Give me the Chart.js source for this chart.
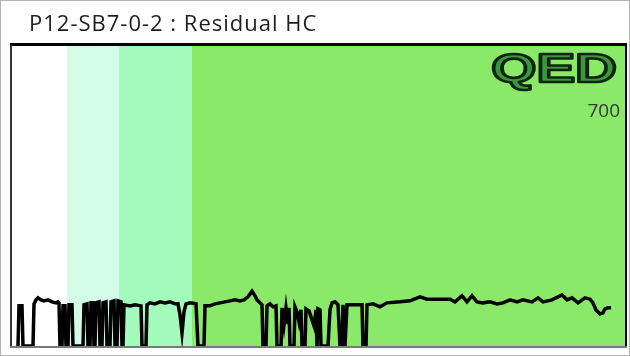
<!DOCTYPE html>
<html>
<head>
<meta charset="utf-8">
<title>P12-SB7-0-2 : Residual HC</title>
<script src="https://cdn.jsdelivr.net/npm/chart.js@4/dist/chart.umd.min.js"></script>
<style>
  html, body { margin: 0; padding: 0; background: #ffffff; }
  #wrap { width: 630px; height: 356px; position: relative; }
</style>
</head>
<body>
<div id="wrap"><canvas id="hc" width="630" height="356"></canvas></div>
<script>
// Run title and logo
const chartTitle = 'P12-SB7-0-2 : Residual HC';
const logoText = 'QED';

// Sample position along the run and residual HC reading at that position
const sampleX = [
  7, 8, 11, 12, 22, 23, 25, 27, 30, 33, 37, 41, 45, 47, 48, 49,
  51, 52, 54, 55, 57, 58, 61, 62,
  72, 73, 76, 77, 79, 80, 82, 83, 84, 85, 88, 89, 91, 92, 95, 96,
  99, 100, 103, 104, 106, 107, 110, 111,
  112, 113, 119, 124, 130, 131, 135, 136, 139, 144, 149, 154, 159, 164, 167,
  169, 171, 173, 175, 179, 185, 187, 193, 194, 199, 204, 209, 214, 219, 224,
  229, 233, 237, 241, 244, 246, 249, 251, 252,
  255, 256, 259, 262, 265, 266, 270, 271, 273, 275, 277, 278, 279,
  283, 284, 286, 288, 290, 291, 294, 295, 298, 301, 303, 305, 306,
  307, 309, 310, 317, 319, 321, 324, 327, 329, 331, 332, 334, 336, 344, 351, 352,
  355, 356, 362, 369, 376, 389, 399, 409, 416, 429, 439, 444, 451, 456, 461, 466,
  472, 479, 486, 492, 499, 506, 512, 521, 527, 532, 541, 551, 556, 561, 567,
  574, 579, 582, 585, 589, 592, 594, 597, 600
];
const residualHC = [
  0, 120, 120, 0, 0, 126, 138, 144, 138, 135, 138, 132, 129, 132, 129, 0,
  0, 120, 120, 0, 0, 123, 123, 0,
  0, 123, 126, 0, 0, 129, 129, 0, 0, 129, 132, 0, 0, 129, 132, 0,
  0, 132, 135, 0, 0, 135, 132, 0,
  0, 123, 120, 123, 120, 0, 0, 123, 129, 126, 132, 129, 132, 126, 126,
  93, 39, 102, 126, 129, 126, 0, 0, 120, 120, 126, 129, 132, 135, 138,
  135, 138, 147, 164, 150, 138, 129, 123, 0,
  0, 120, 126, 117, 120, 0, 0, 114, 63, 114, 66, 114, 0,
  0, 117, 102, 72, 108, 0, 0, 111, 105, 78, 60, 108, 0,
  111, 108, 0, 0, 108, 129, 132, 123, 0, 0, 123, 0, 123, 123, 123, 0,
  0, 123, 126, 117, 129, 132, 135, 147, 140, 140, 140, 132, 150, 132, 150, 132,
  129, 132, 126, 129, 138, 132, 138, 132, 144, 132, 138, 153, 138, 144, 129,
  144, 140, 129, 108, 96, 99, 111, 114, 114
];

// Axis ticks shown on the value scale
const hcTicks = [700];

// Shaded phases of the run: start position of each band and its fill
const bandStarts = [0, 56, 108, 181];
const bandEnds = [56, 108, 181, 615];
const bandColors = ['#ffffff', '#d2fce8', '#a3fbbc', '#8be96a'];

const points = sampleX.map((x, i) => ({ x: x, y: residualHC[i] }));

// Phase bands behind the trace, positioned through the x scale
const bandPlugin = {
  id: 'bands',
  beforeDatasetsDraw(chart) {
    const { ctx, chartArea: a, scales: { x } } = chart;
    ctx.save();
    for (let i = 0; i < bandStarts.length; i++) {
      const x0 = x.getPixelForValue(bandStarts[i]);
      const x1 = x.getPixelForValue(bandEnds[i]);
      ctx.fillStyle = bandColors[i];
      ctx.fillRect(x0, a.top, x1 - x0, a.bottom - a.top);
    }
    ctx.restore();
  }
};

// Page background, header text, logo, value labels and frame
const framePlugin = {
  id: 'frame',
  beforeDraw(chart) {
    const { ctx, width, height } = chart;
    ctx.save();
    ctx.fillStyle = '#ffffff';
    ctx.fillRect(0, 0, width, height);
    ctx.restore();
  },
  afterDraw(chart) {
    const { ctx, chartArea: a, width, height, scales: { y } } = chart;
    ctx.save();
    // header
    ctx.fillStyle = '#1e1e1e';
    ctx.font = '22px "Open Sans", Lato, sans-serif';
    ctx.letterSpacing = '1px';
    ctx.textBaseline = 'alphabetic';
    ctx.textAlign = 'left';
    ctx.fillText(chartTitle, 29, 31);
    ctx.letterSpacing = '0px';

    // value labels inside the right edge
    ctx.fillStyle = '#383838';
    ctx.font = '19px "Open Sans", sans-serif';
    ctx.textAlign = 'right';
    ctx.textBaseline = 'middle';
    hcTicks.forEach(v => ctx.fillText(String(v), a.right - 6, y.getPixelForValue(v)));

    // logo: dark outlined letters with a lighter green core
    ctx.save();
    ctx.translate(a.right - 9, a.top + 37);
    ctx.scale(1.45, 1);
    ctx.font = 'bold 40px "Liberation Sans", Arial, sans-serif';
    ctx.textAlign = 'right';
    ctx.textBaseline = 'alphabetic';
    ctx.lineJoin = 'round';
    ctx.lineWidth = 2.6;
    ctx.fillStyle = '#3f9440';
    ctx.strokeStyle = '#0c260d';
    ctx.fillText(logoText, 0, 0);
    ctx.strokeText(logoText, 0, 0);
    ctx.restore();

    // plot frame
    ctx.fillStyle = '#000000';
    ctx.fillRect(a.left - 1, a.top - 2, a.right - a.left + 2, 3);
    ctx.fillStyle = '#333333';
    ctx.fillRect(a.left - 1, a.top, 2, a.bottom - a.top);
    ctx.fillStyle = '#000000';
    ctx.fillRect(a.right - 1, a.top - 1, 2, a.bottom - a.top + 2);
    ctx.fillStyle = '#7a7a7a';
    ctx.fillRect(a.left - 1, a.bottom, a.right - a.left + 2, 2);

    // outer border
    ctx.strokeStyle = '#b4b4b4';
    ctx.lineWidth = 1;
    ctx.strokeRect(0.5, 0.5, width - 1, height - 1);
    ctx.restore();
  }
};

new Chart(document.getElementById('hc'), {
  type: 'line',
  data: {
    datasets: [{
      data: points,
      borderColor: '#000000',
      borderWidth: 3.5,
      pointRadius: 0,
      tension: 0,
      fill: false,
      borderJoinStyle: 'miter'
    }]
  },
  options: {
    responsive: false,
    animation: false,
    layout: { padding: { left: 11, right: 4, top: 45, bottom: 10 } },
    plugins: { legend: { display: false }, title: { display: false }, tooltip: { enabled: false } },
    scales: {
      x: { type: 'linear', min: 0, max: 615, display: false },
      y: { type: 'linear', min: 0, max: 900, display: false }
    }
  },
  plugins: [bandPlugin, framePlugin]
});
</script>
</body>
</html>
